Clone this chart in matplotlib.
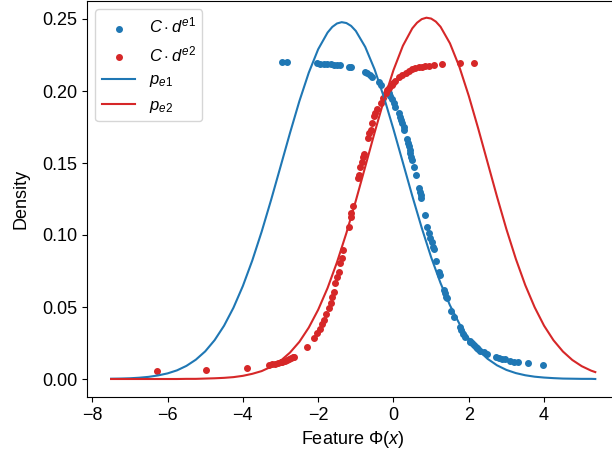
import matplotlib
matplotlib.use("Agg")
import matplotlib.pyplot as plt

plt.rcParams['font.family'] = ['Liberation Sans', 'DejaVu Sans']
plt.rcParams['mathtext.fontset'] = 'custom'
plt.rcParams['mathtext.rm'] = 'Liberation Sans'
plt.rcParams['mathtext.it'] = 'Liberation Sans:italic'
plt.rcParams['font.size'] = 13

# scatter points C*d^e1 (blue) and C*d^e2 (red)
d1_x = [-2.95, -2.82, -2.03, -1.94, -1.85, -1.76, -1.67, -1.58, -1.49, -1.43,
        -1.19, -1.14, -0.76, -0.70, -0.63, -0.57, -0.39, -0.32, -0.12, -0.08,
        -0.03, 0.01, 0.05, 0.14, 0.17, 0.20, 0.23, 0.27, 0.29, 0.36, 0.39, 0.41,
        0.43, 0.45, 0.47, 0.50, 0.55, 0.60, 0.67, 0.70, 0.72, 0.73, 0.85, 0.89,
        0.94, 0.96, 1.01, 1.04, 1.07, 1.13, 1.20, 1.23, 1.33, 1.36, 1.40, 1.42,
        1.54, 1.60, 1.76, 1.80, 1.85, 1.91, 2.02, 2.04, 2.09, 2.13, 2.18, 2.22,
        2.24, 2.31, 2.40, 2.49, 2.71, 2.79, 2.88, 2.97, 3.10, 3.21, 3.32, 3.56, 3.97]
d1_y = [0.2199, 0.2199, 0.2192, 0.2190, 0.2188, 0.2188, 0.2185, 0.2183, 0.2181, 0.2178,
        0.2169, 0.2165, 0.2134, 0.2123, 0.2111, 0.2099, 0.2065, 0.2042, 0.1988, 0.1965,
        0.1942, 0.1915, 0.1887, 0.1845, 0.1822, 0.1799, 0.1776, 0.1752, 0.1729, 0.1664, 0.1641, 0.1618,
        0.1590, 0.1567, 0.1540, 0.1521, 0.1470, 0.1417, 0.1324, 0.1301, 0.1278, 0.1255, 0.1139, 0.1058,
        0.1012, 0.0977, 0.0954, 0.0919, 0.0903, 0.0822, 0.0745, 0.0722, 0.0618, 0.0595, 0.0572, 0.0560,
        0.0472, 0.0428, 0.0359, 0.0340, 0.0310, 0.0294, 0.0266, 0.0259, 0.0248, 0.0236, 0.0224, 0.0213,
        0.0208, 0.0197, 0.0185, 0.0174, 0.0155, 0.0144, 0.0137, 0.0137, 0.0127, 0.0120, 0.0116, 0.0109, 0.0097]

d2_x = [-6.27, -4.99, -3.88, -3.31, -3.22, -3.15, -3.08, -3.00, -2.95, -2.88, -2.82,
        -2.77, -2.73, -2.68, -2.64, -2.29, -2.11, -2.02, -1.96, -1.90, -1.85, -1.80,
        -1.72, -1.67, -1.63, -1.58, -1.54, -1.49, -1.45, -1.41, -1.36, -1.33, -1.19,
        -1.14, -1.12, -1.07, -0.95, -0.92, -0.88, -0.83, -0.80, -0.79, -0.68, -0.65,
        -0.61, -0.57, -0.52, -0.48, -0.43, -0.34, -0.28, -0.21, -0.17, -0.12, -0.05,
        0.00, 0.05, 0.14, 0.23, 0.32, 0.41, 0.50, 0.58, 0.67, 0.76, 0.85, 0.94, 1.07,
        1.29, 1.78, 2.13]
d2_y = [0.0053, 0.0060, 0.0074, 0.0097, 0.0102, 0.0106, 0.0109, 0.0115, 0.0120, 0.0126, 0.0132,
        0.0138, 0.0144, 0.0150, 0.0155, 0.0224, 0.0282, 0.0322, 0.0350, 0.0380, 0.0410, 0.0450,
        0.0490, 0.0526, 0.0572, 0.0606, 0.0664, 0.0710, 0.0745, 0.0803, 0.0838, 0.0896, 0.1058,
        0.1123, 0.1151, 0.1201, 0.1394, 0.1417, 0.1474, 0.1509, 0.1540, 0.1563, 0.1672, 0.1706,
        0.1729, 0.1780, 0.1826, 0.1845, 0.1873, 0.1915, 0.1949, 0.1984, 0.2007, 0.2019, 0.2040,
        0.2055, 0.2072, 0.2100, 0.2111, 0.2123, 0.2141, 0.2153, 0.2157, 0.2164, 0.2169, 0.2174, 0.2176, 0.2181,
        0.2185, 0.2197, 0.2197]

# density curves p_e1 / p_e2
p1_x = [-7.5, -7.25, -7.0, -6.75, -6.5, -6.25, -6.0, -5.75, -5.5, -5.25, -5.0, -4.75,
        -4.5, -4.25, -4.0, -3.75, -3.5, -3.25, -3.0, -2.75, -2.5, -2.25, -2.0, -1.75,
        -1.625, -1.5, -1.375, -1.25, -1.125, -1.0, -0.75, -0.5, -0.25, 0.0, 0.25, 0.5,
        0.75, 1.0, 1.25, 1.5, 1.75, 2.0, 2.25, 2.5, 2.75, 3.0, 3.25, 3.5, 3.75, 4.0,
        4.25, 4.5, 4.75, 5.0, 5.25, 5.36]
p1_y = [0.0002, 0.0003, 0.0005, 0.0009, 0.0015, 0.0025, 0.0039, 0.0060, 0.0091, 0.0134,
        0.0192, 0.0270, 0.0370, 0.0495, 0.0646, 0.0823, 0.1024, 0.1244, 0.1475, 0.1707,
        0.1929, 0.2127, 0.2290, 0.2406, 0.2445, 0.2469, 0.2478, 0.2472, 0.2452, 0.2417,
        0.2306, 0.2149, 0.1954, 0.1734, 0.1503, 0.1271, 0.1050, 0.0846, 0.0666, 0.0512,
        0.0384, 0.0281, 0.0201, 0.0140, 0.0095, 0.0063, 0.0041, 0.0026, 0.0016, 0.0010,
        0.0006, 0.0003, 0.0002, 0.0001, 0.0001, 0.0000]
p2_x = [-7.5, -7.25, -7.0, -6.75, -6.5, -6.25, -6.0, -5.75, -5.5, -5.25, -5.0, -4.75,
        -4.5, -4.25, -4.0, -3.75, -3.5, -3.25, -3.0, -2.75, -2.5, -2.25, -2.0, -1.75,
        -1.5, -1.25, -1.0, -0.75, -0.5, -0.25, 0.0, 0.25, 0.5, 0.625, 0.75, 0.875, 1.0,
        1.125, 1.25, 1.5, 1.75, 2.0, 2.25, 2.5, 2.75, 3.0, 3.25, 3.5, 3.75, 4.0, 4.25,
        4.5, 4.75, 5.0, 5.25, 5.36]
p2_y = [0.0000, 0.0000, 0.0000, 0.0000, 0.0000, 0.0000, 0.0000, 0.0000, 0.0001, 0.0001,
        0.0003, 0.0005, 0.0008, 0.0013, 0.0022, 0.0036, 0.0055, 0.0085, 0.0126, 0.0183,
        0.0258, 0.0357, 0.0481, 0.0632, 0.0811, 0.1014, 0.1238, 0.1474, 0.1712, 0.1940,
        0.2145, 0.2314, 0.2435, 0.2474, 0.2499, 0.2509, 0.2503, 0.2482, 0.2446, 0.2331,
        0.2168, 0.1966, 0.1740, 0.1503, 0.1266, 0.1040, 0.0834, 0.0652, 0.0498, 0.0370,
        0.0269, 0.0191, 0.0132, 0.0089, 0.0058, 0.0048]

fig = plt.figure(figsize=(6.12, 4.53), dpi=100)
# axes runs past the right edge, as in the cropped original
ax = fig.add_axes([87 / 612, 56 / 453, 532 / 612, 396 / 453])
ax.scatter(d1_x, d1_y, s=16, color='tab:blue', label=r'$C\cdot d^{e1}$')
ax.scatter(d2_x, d2_y, s=16, color='tab:red', label=r'$C\cdot d^{e2}$')
ax.plot(p1_x, p1_y, color='tab:blue', lw=1.5, label=r'$p_{e1}$')
ax.plot(p2_x, p2_y, color='tab:red', lw=1.5, label=r'$p_{e2}$')
ax.set_xlim(-8.14, 5.99)
ax.set_ylim(-0.0125, 0.2625)
ax.set_xlabel(r'Feature $\Phi(x)$')
ax.set_ylabel('Density', labelpad=9)
ax.legend(loc='upper left', fontsize=12)
fig.savefig('out.png', dpi=100)
